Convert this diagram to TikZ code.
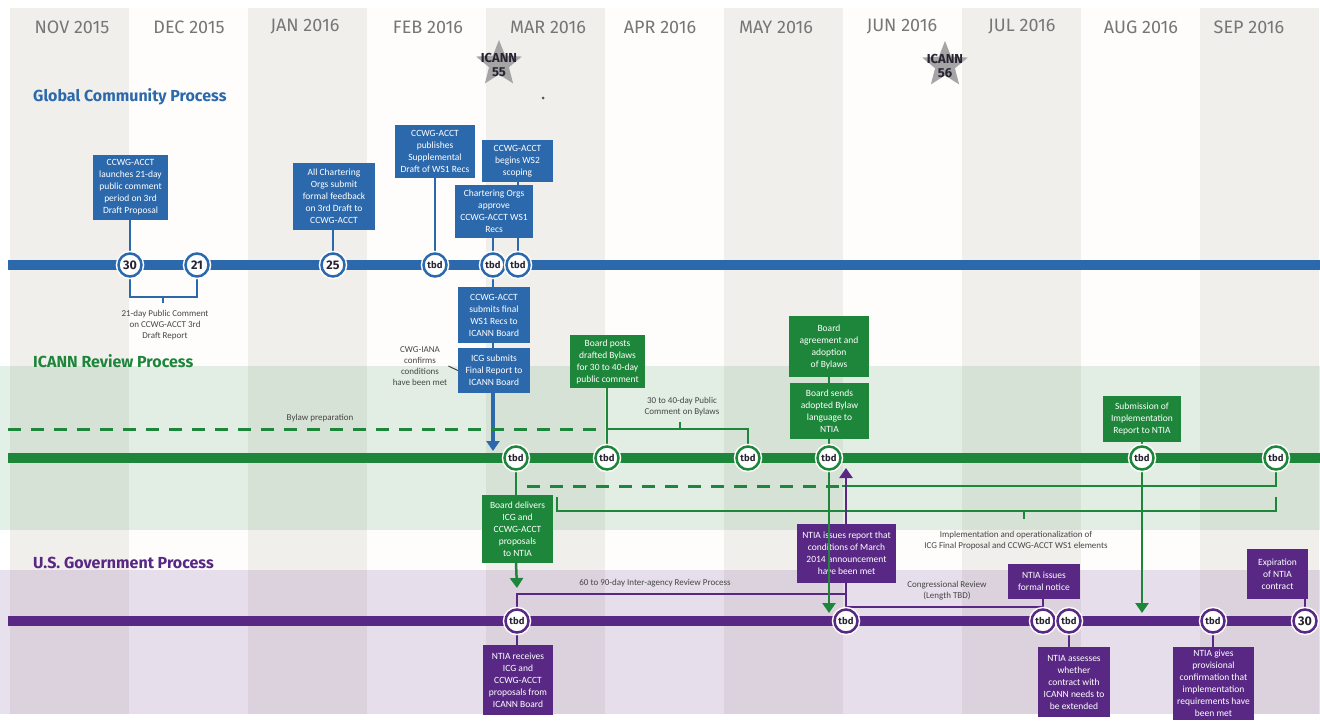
\documentclass[tikz,border=0pt]{standalone}
\usepackage{fontspec}
\setmainfont{Fira Sans}
\newfontfamily\smallfont{Carlito}
\usetikzlibrary{shapes.geometric,arrows.meta}
\definecolor{cblue}{RGB}{44,105,172}
\definecolor{cgreen}{RGB}{29,134,58}
\definecolor{cpurple}{RGB}{88,40,132}
\definecolor{colgrey}{RGB}{241,239,236}
\definecolor{offwhite}{RGB}{254,253,251}
\definecolor{monthgrey}{RGB}{118,118,118}
\definecolor{darktext}{RGB}{40,36,50}
\definecolor{notegrey}{RGB}{70,70,70}
\definecolor{stargrey}{RGB}{165,165,165}
\tikzset{
  box/.style={rectangle, inner sep=1pt, align=center, text=white, font=\smallfont\fontsize{9.5}{12}\selectfont},
  bbox/.style={box, fill=cblue},
  gbox/.style={box, fill=cgreen},
  pbox/.style={box, fill=cpurple},
  circ/.style={circle, fill=white, draw=#1, line width=2.5pt, minimum size=23pt, inner sep=0pt, text=darktext, font=\bfseries\fontsize{12.5}{12.5}\selectfont, preaction={draw=white, line width=5.5pt}},
  tbdf/.style={font=\bfseries\fontsize{9.5}{9.5}\selectfont},
  conn/.style={draw=#1, line width=2.5pt},
  arr/.style={-{Triangle[width=13pt,length=10pt]}},
  tl/.style={draw=#1, line width=10pt},
  dsh/.style={draw=cgreen, line width=3pt, dash pattern=on 13pt off 10pt},
  note/.style={align=center, text=notegrey, font=\smallfont\fontsize{9}{11}\selectfont, inner sep=1pt},
  month/.style={text=monthgrey, font=\fontsize{18}{18}\selectfont, inner sep=0pt},
  proc/.style={anchor=west, font=\bfseries\fontsize{16}{16}\selectfont, inner sep=0pt},
  startxt/.style={font=\bfseries\fontsize{13}{13.5}\selectfont, text=darktext, align=center, inner sep=0pt},
}
\begin{document}
\begin{tikzpicture}[x=1pt,y=-1pt]
\useasboundingbox (0,0) rectangle (1320,721);
\fill[white] (0,0) rectangle (1320,721);
% month columns
\foreach \i in {0,2,...,10} \fill[colgrey] ({10+119*\i},8) rectangle ({129+119*\i},714);
\foreach \i in {1,3,...,9} \fill[offwhite] ({10+119*\i},8) rectangle ({129+119*\i},714);
% process bands
\fill[cgreen, opacity=0.12] (0,366) rectangle (1320,530);
\fill[cpurple, opacity=0.14] (0,570) rectangle (1320,714);
% month labels
\foreach \x/\m [count=\k] in {72/NOV 2015, 189/DEC 2015, 305/JAN 2016, 428/FEB 2016, 548/MAR 2016, 660/APR 2016, 776/MAY 2016, 902/JUN 2016, 1022/JUL 2016, 1141/AUG 2016, 1249/SEP 2016}
  \node[month] (mon\k) at (\x,27) {\m};
% ICANN meetings
\node[star, star points=5, star point ratio=2.3, fill=stargrey, minimum size=48pt, inner sep=0pt] (star55) at (499,64) {};
\node[startxt] (icann55) at (499,65) {ICANN\\55};
\node[star, star points=5, star point ratio=2.3, fill=stargrey, minimum size=48pt, inner sep=0pt] (star56) at (945,65) {};
\node[startxt] (icann56) at (945,66) {ICANN\\56};
\node[circle, fill=darktext!80, inner sep=0pt, minimum size=3pt] (dot) at (543,98) {};
% process labels
\node[proc, text=cblue] (lglobal) at (33,97) {Global Community Process};
\node[proc, text=cgreen] (licann) at (33,361) {ICANN Review Process};
\node[proc, text=cpurple] (lusg) at (33,563) {U.S. Government Process};
% timeline ends
\coordinate (bl0) at (8,265); \coordinate (bl1) at (1320,265);
\coordinate (gl0) at (8,458); \coordinate (gl1) at (1320,458);
\coordinate (pl0) at (8,621); \coordinate (pl1) at (1300,621);
% ---------- blue boxes ----------
\node[bbox, minimum width=75pt, minimum height=65pt] (B1) at (130.5,187.5) {CCWG-ACCT\\launches 21-day\\public comment\\period on 3rd\\Draft Proposal};
\node[bbox, minimum width=82pt, minimum height=67pt] (B2) at (334,196.5) {All Chartering\\Orgs submit\\formal feedback\\on 3rd Draft to\\CCWG-ACCT};
\node[bbox, minimum width=80pt, minimum height=53pt] (B3) at (435,151.5) {CCWG-ACCT\\publishes\\Supplemental\\Draft of WS1 Recs};
\node[bbox, minimum width=71pt, minimum height=42pt] (B4) at (517.5,161) {CCWG-ACCT\\begins WS2\\scoping};
\node[bbox, minimum width=78pt, minimum height=53pt] (B5) at (494,211.5) {Chartering Orgs\\approve\\CCWG-ACCT WS1\\Recs};
\node[bbox, minimum width=72pt, minimum height=56pt] (B6) at (494,315) {CCWG-ACCT\\submits final\\WS1 Recs to\\ICANN Board};
\node[bbox, minimum width=72pt, minimum height=45pt] (B7) at (494,370.5) {ICG submits\\Final Report to\\ICANN Board};
\node[note] (ncwg) at (420,366) {CWG-IANA\\confirms\\conditions\\have been met};
% ---------- green boxes ----------
\node[gbox, minimum width=75pt, minimum height=53pt] (G1) at (607.5,361.5) {Board posts\\drafted Bylaws\\for 30 to 40-day\\public comment};
\node[gbox, minimum width=80pt, minimum height=61pt] (G2) at (829,346.5) {Board\\agreement and\\adoption\\of Bylaws};
\node[gbox, minimum width=79pt, minimum height=56pt] (G3) at (829.5,411) {Board sends\\adopted Bylaw\\language to\\NTIA};
\node[gbox, minimum width=78pt, minimum height=46pt] (G4) at (1142,419) {Submission of\\Implementation\\Report to NTIA};
\node[gbox, minimum width=71pt, minimum height=68pt] (G5) at (517.5,529) {Board delivers\\ICG and\\CCWG-ACCT\\proposals\\to NTIA};
% ---------- purple boxes ----------
\node[pbox, minimum width=70pt, minimum height=70pt] (P1) at (518,680) {NTIA receives\\ICG and\\CCWG-ACCT\\proposals from\\ICANN Board};
\node[pbox, minimum width=99pt, minimum height=59pt] (P2) at (846.5,553.5) {NTIA issues report that\\conditions of March\\2014 announcement\\have been met};
\node[pbox, minimum width=72pt, minimum height=35pt] (P3) at (1044,581.5) {NTIA issues\\formal notice};
\node[pbox, minimum width=72pt, minimum height=70pt] (P4) at (1074,682) {NTIA assesses\\whether\\contract with\\ICANN needs to\\be extended};
\node[pbox, minimum width=81pt, minimum height=73pt] (P5) at (1213.5,683.5) {NTIA gives\\provisional\\confirmation that\\implementation\\requirements have\\been met};
\node[pbox, minimum width=61pt, minimum height=50pt] (P6) at (1277.5,574) {Expiration\\of NTIA\\contract};
% ---------- notes ----------
\node[note] (n21) at (165,325) {21-day Public Comment\\on CCWG-ACCT 3rd\\Draft Report};
\node[note] (nbylaw) at (320,418) {Bylaw preparation};
\node[note] (n3040) at (682,407) {30 to 40-day Public\\Comment on Bylaws};
\node[note] (nimpl) at (1016,541) {Implementation and operationalization of\\ICG Final Proposal and CCWG-ACCT WS1 elements};
\node[note] (n6090) at (655,583) {60 to 90-day Inter-agency Review Process};
\node[note] (ncong) at (947,591) {Congressional Review\\(Length TBD)};
% ---------- circle positions ----------
\coordinate (xc30) at (130,265); \coordinate (xc21) at (197,265); \coordinate (xc25) at (333,265);
\coordinate (xbt1) at (435,265); \coordinate (xbt2) at (493,265); \coordinate (xbt3) at (518,265);
\coordinate (xgt1) at (516,458); \coordinate (xgt2) at (607,458); \coordinate (xgt3) at (748,458);
\coordinate (xgt4) at (829,458); \coordinate (xgt5) at (1142,458); \coordinate (xgt6) at (1276,458);
\coordinate (xpt1) at (517,621); \coordinate (xpt2) at (846,621); \coordinate (xpt3) at (1043,621);
\coordinate (xpt4) at (1069,621); \coordinate (xpt5) at (1213,621); \coordinate (xpc30) at (1305,621);
% bracket/arrow helper coordinates
\coordinate (br21a) at (130,297); \coordinate (br21b) at (197,297);
\coordinate (br21t) at (163,297); \coordinate (br21u) at (163,303);
\coordinate (arB) at (493,451);
\coordinate (bylaw0) at (8,429); \coordinate (bylaw1) at (600,429);
\coordinate (br30a) at (607,429); \coordinate (br30b) at (748,429);
\coordinate (br30t) at (680,429); \coordinate (br30u) at (680,422);
\coordinate (arG5) at (517,588);
\coordinate (arG4) at (829,613); \coordinate (arG5b) at (1142,613);
\coordinate (arP) at (846,468);
\coordinate (im0) at (527,486); \coordinate (im1) at (842,486); \coordinate (im2) at (1276,486);
\coordinate (ib0) at (557,497); \coordinate (ib1) at (557,511); \coordinate (ib2) at (1276,511); \coordinate (ib3) at (1276,497);
\coordinate (ibt) at (1024,511); \coordinate (ibu) at (1024,519);
\coordinate (r60a) at (517,594); \coordinate (r60b) at (846,594);
\coordinate (cr0) at (846,607); \coordinate (cr1) at (1043,607);
% ---------- connectors (under timelines) ----------
\draw[conn=cblue] (xc30 |- B1.south) -- (xc30);
\draw[conn=cblue] (xc25 |- B2.south) -- (xc25);
\draw[conn=cblue] (xbt1 |- B3.south) -- (xbt1);
\draw[conn=cblue] (xbt3 |- B4.south) -- (xbt3 |- B5.north);
\draw[conn=cblue] (xbt3 |- B5.south) -- (xbt3);
\draw[conn=cblue] (xbt2 |- B5.south) -- (xbt2);
\draw[conn=cblue] (xbt2) -- (xbt2 |- B6.north);
\draw[conn=cblue] (xbt2 |- B6.south) -- (xbt2 |- B7.north);
\draw[conn=cblue, line width=3.5pt, arr] (xbt2 |- B7.south) -- (arB);
\draw[draw=notegrey, line width=1pt] (ncwg.east) -- (B7.west);
\draw[conn=cblue, line width=2pt] (xc30) -- (br21a) -- (br21b) -- (xc21);
\draw[conn=cblue, line width=2pt] (br21t) -- (br21u);
% green
\draw[dsh] (bylaw0) -- (bylaw1);
\draw[conn=cgreen] (xgt2 |- G1.south) -- (xgt2);
\draw[conn=cgreen] (xgt2) -- (br30a) -- (br30b) -- (xgt3);
\draw[conn=cgreen, line width=1.5pt] (br30t) -- (br30u);
\draw[conn=cgreen] (xgt4 |- G2.south) -- (xgt4 |- G3.north);
\draw[conn=cgreen] (xgt4 |- G3.south) -- (xgt4);
\draw[conn=cgreen] (xgt5 |- G4.south) -- (xgt5);
\draw[conn=cgreen] (xgt1) -- (xgt1 |- G5.north);
\draw[conn=cgreen, arr] (xgt1 |- G5.south) -- (arG5);
\draw[dsh] (im0) -- (im1);
\draw[conn=cgreen] (im1) -- (im2) -- (xgt6);
\draw[conn=cgreen, line width=1.5pt] (ib0) -- (ib1) -- (ib2) -- (ib3);
\draw[conn=cgreen, line width=1.5pt] (ibt) -- (ibu);
\draw[conn=cgreen, arr] (xgt5) -- (arG5b);
% purple
\draw[conn=cpurple] (xpt1) -- (xpt1 |- P1.north);
\draw[conn=cpurple] (xpt1) -- (r60a) -- (r60b);
\draw[conn=cpurple] (xpt2) -- (xpt2 |- P2.south);
\draw[conn=cpurple, arr] (xpt2 |- P2.north) -- (arP);
\draw[conn=cpurple] (cr0) -- (cr1);
\draw[conn=cpurple] (xpt3 |- P3.south) -- (xpt3);
\draw[conn=cpurple] (xpt4) -- (xpt4 |- P4.north);
\draw[conn=cpurple] (xpt5) -- (xpt5 |- P5.north);
\draw[conn=cpurple] (xpc30 |- P6.south) -- (xpc30);
\draw[conn=cgreen, arr] (xgt4) -- (arG4);
% ---------- timelines ----------
\draw[tl=cblue] (bl0) -- (bl1);
\draw[tl=cgreen] (gl0) -- (gl1);
\draw[tl=cpurple] (pl0) -- (pl1);
% ---------- circles ----------
\node[circ=cblue] (c30) at (xc30) {30};
\node[circ=cblue] (c21) at (xc21) {21};
\node[circ=cblue] (c25) at (xc25) {25};
\node[circ=cblue, tbdf] (bt1) at (xbt1) {tbd};
\node[circ=cblue, tbdf] (bt2) at (xbt2) {tbd};
\node[circ=cblue, tbdf] (bt3) at (xbt3) {tbd};
\node[circ=cgreen, tbdf] (gt1) at (xgt1) {tbd};
\node[circ=cgreen, tbdf] (gt2) at (xgt2) {tbd};
\node[circ=cgreen, tbdf] (gt3) at (xgt3) {tbd};
\node[circ=cgreen, tbdf] (gt4) at (xgt4) {tbd};
\node[circ=cgreen, tbdf] (gt5) at (xgt5) {tbd};
\node[circ=cgreen, tbdf] (gt6) at (xgt6) {tbd};
\node[circ=cpurple, tbdf] (pt1) at (xpt1) {tbd};
\node[circ=cpurple, tbdf] (pt2) at (xpt2) {tbd};
\node[circ=cpurple, tbdf] (pt3) at (xpt3) {tbd};
\node[circ=cpurple, tbdf] (pt4) at (xpt4) {tbd};
\node[circ=cpurple, tbdf] (pt5) at (xpt5) {tbd};
\node[circ=cpurple] (pc30) at (xpc30) {30};
\end{tikzpicture}
\end{document}
